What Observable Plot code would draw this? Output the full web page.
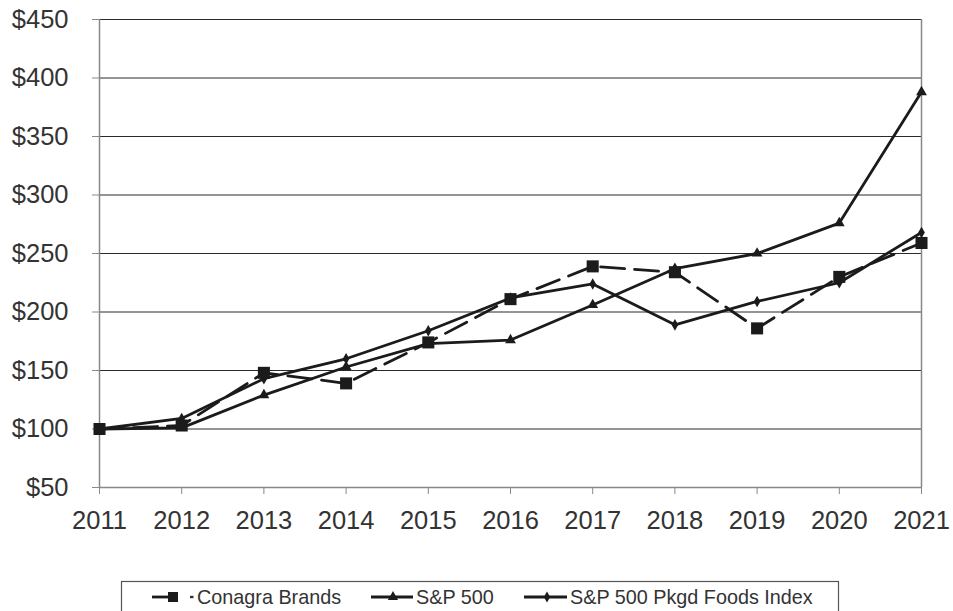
<!DOCTYPE html>
<html>
<head>
<meta charset="utf-8">
<script src="https://cdn.jsdelivr.net/npm/d3@7"></script>
<script src="https://cdn.jsdelivr.net/npm/@observablehq/plot@0.6"></script>
<style>
  html, body { margin: 0; padding: 0; background: #fff; }
  #wrap { position: relative; width: 953px; height: 611px; overflow: hidden; font-family: "Liberation Sans", Arial, sans-serif; }
</style>
</head>
<body>
<div id="wrap"></div>
<script>
const years = [2011, 2012, 2013, 2014, 2015, 2016, 2017, 2018, 2019, 2020, 2021];
const conagra = [100, 103, 148, 139, 174, 211, 239, 234, 186, 230, 259];
const sp500   = [100, 101, 129, 153, 173, 176, 206, 237, 250, 276, 388];
const pkgd    = [100, 109, 143, 160, 184, 212, 224, 189, 209, 225, 268];
const seriesNames = ["Conagra Brands", "S&P 500", "S&P 500 Pkgd Foods Index"];
const yTicks = [50, 100, 150, 200, 250, 300, 350, 400, 450];

const ink = "#1b1b1b";
const rows = (vals) => years.map((y, i) => ({year: y, value: vals[i]}));
const dC = rows(conagra), dS = rows(sp500), dP = rows(pkgd);

const chart = Plot.plot({
  width: 953,
  height: 560,
  marginLeft: 99,
  marginRight: 32,
  marginTop: 19,
  marginBottom: 73,
  x: {domain: [2011, 2021]},
  y: {domain: [50, 450]},
  style: {fontFamily: "'Liberation Sans', Arial, sans-serif", fontSize: "25.5px", background: "white", color: "#333", overflow: "visible"},
  marks: [
    Plot.ruleY(yTicks.filter(v => v > 50), {stroke: "#2a2a2a", strokeWidth: 1}),
    Plot.ruleY([50], {stroke: "#888", strokeWidth: 1.5}),
    Plot.ruleX([2011], {stroke: "#888", strokeWidth: 1.5}),
    Plot.ruleX([2021], {stroke: "#888", strokeWidth: 1.5}),
    Plot.axisY({ticks: yTicks, tickFormat: d => "$" + d, tickSize: 7, tickPadding: 24, stroke: "#888", fill: "#333", label: null}),
    Plot.axisX({ticks: years, tickFormat: d => String(d), tickSize: 7, tickPadding: 16, stroke: "#888", fill: "#333", label: null}),
    Plot.line(dS, {x: "year", y: "value", stroke: ink, strokeWidth: 2.8}),
    Plot.line(dP, {x: "year", y: "value", stroke: ink, strokeWidth: 2.8}),
    Plot.line(dC, {x: "year", y: "value", stroke: ink, strokeWidth: 2.8, strokeDasharray: "24,10"}),
    Plot.dot(dS, {x: "year", y: "value", symbol: "triangle", r: 4.0, fill: ink, stroke: "none"}),
    Plot.dot(dP, {x: "year", y: "value", symbol: "diamond", r: 3.5, fill: ink, stroke: "none"}),
    Plot.dot(dC, {x: "year", y: "value", symbol: "square", r: 6.8, fill: ink, stroke: "none"})
  ]
});
document.getElementById("wrap").appendChild(chart);

// Legend below the chart
const leg = d3.select("#wrap").append("svg")
  .attr("width", 953).attr("height", 611)
  .style("position", "absolute").style("left", "0px").style("top", "0px").style("pointer-events", "none");
leg.append("rect").attr("x", 121.5).attr("y", 581.5).attr("width", 717).attr("height", 40)
  .attr("fill", "white").attr("stroke", "#555").attr("stroke-width", 1.2);
const ly = 597;
const items = [
  {name: seriesNames[0], x1: 152, x2: 178, mx: 173, sym: d3.symbolSquare, size: 100, tx: 197, dot: true},
  {name: seriesNames[1], x1: 371, x2: 413, mx: 393, sym: d3.symbolTriangle, size: 45, tx: 416},
  {name: seriesNames[2], x1: 524, x2: 567, mx: 547, sym: d3.symbolDiamond, size: 34, tx: 570}
];
items.forEach(it => {
  leg.append("line").attr("x1", it.x1).attr("x2", it.x2).attr("y1", ly).attr("y2", ly)
    .attr("stroke", ink).attr("stroke-width", 2.8);
  leg.append("path").attr("d", d3.symbol(it.sym, it.size)()).attr("transform", `translate(${it.mx},${ly})`).attr("fill", ink);
  if (it.dot) {
    leg.append("line").attr("x1", 190).attr("x2", 193.5).attr("y1", ly).attr("y2", ly)
      .attr("stroke", "#333").attr("stroke-width", 2.4);
  }
  leg.append("text").attr("x", it.tx).attr("y", 604).attr("fill", "#333")
    .style("font-family", "'Liberation Sans', Arial, sans-serif").style("font-size", "19.8px").text(it.name);
});
</script>
</body>
</html>
